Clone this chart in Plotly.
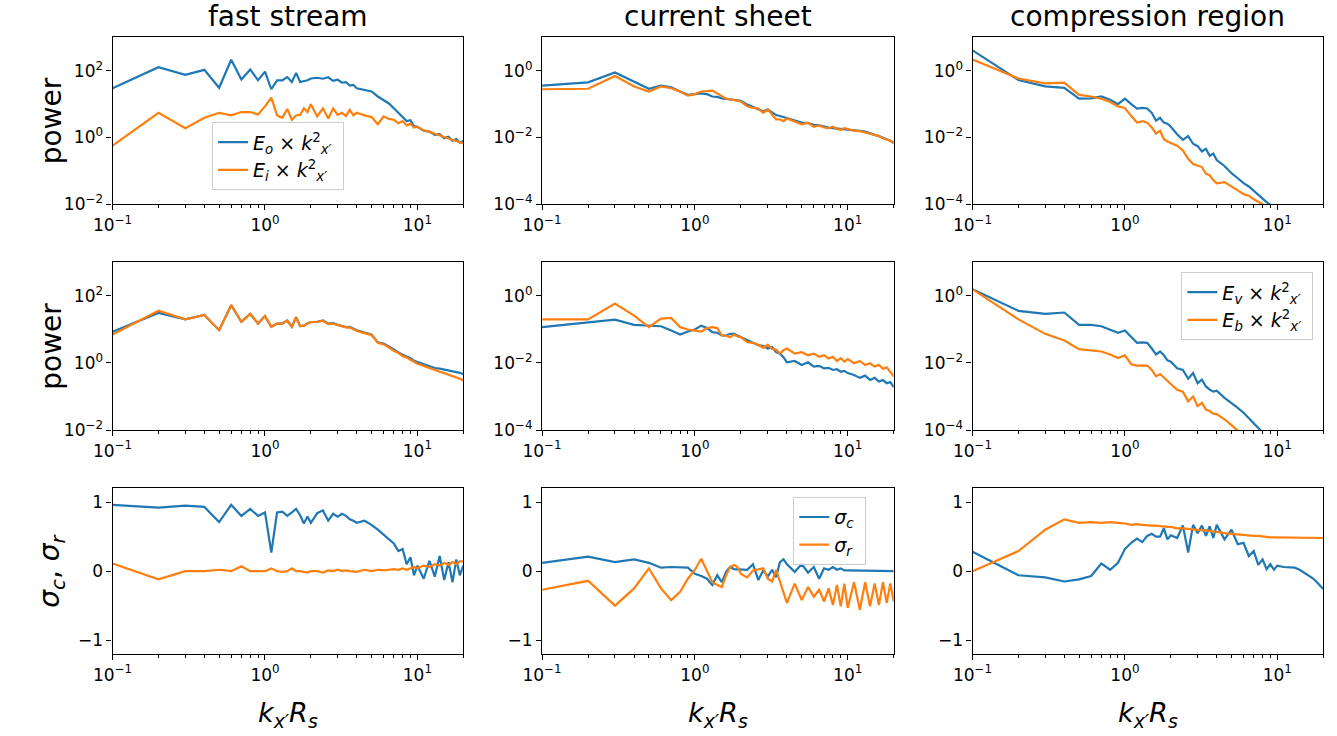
import plotly.graph_objects as go

# ---------------- data ----------------
k = [0.1, 0.2, 0.3, 0.4, 0.5, 0.6, 0.7, 0.8, 0.9, 1.0,
     1.1, 1.2, 1.3, 1.4, 1.5, 1.6, 1.7, 1.8, 1.9, 2.0,
     2.2, 2.4, 2.6, 2.8, 3.0, 3.2, 3.4, 3.6, 3.8, 4.0,
     4.5, 5.0, 5.5, 6.0, 6.5, 7.0, 7.5, 8.0, 8.5, 9.0, 9.5, 10,
     11, 12, 13, 14, 15, 16, 17, 18, 19, 20]

# row 1: E_o, E_i  (x k^2)
fs_Eo = [30, 128, 76, 107, 31, 215, 55, 110, 52, 95,
         28, 52, 52, 65, 46, 87, 46, 48, 52, 59,
         62, 58, 64, 50, 54, 44, 46, 36, 38, 30,
         27, 24, 17, 13, 10.5, 7.5, 5.5, 4.2, 3.1, 3.3, 2.2, 2.1,
         1.6, 1.5, 1.2, 1.25, 0.95, 1.05, 0.8, 0.9, 0.7, 0.78]
fs_Ei = [0.57, 5.5, 1.9, 3.9, 5.5, 4.6, 5.8, 5.8, 4.9, 8.6,
         15.8, 4.6, 3.9, 7.2, 3.4, 4.6, 4.8, 7.5, 5.8, 10,
         4.3, 7.5, 3.7, 7.5, 4.8, 5.5, 4.4, 6.8, 4.6, 5.5,
         4.6, 4.1, 2.5, 4.3, 3.6, 3.4, 2.7, 3.1, 2.3, 2.6, 2.0, 2.1,
         1.6, 1.5, 1.3, 1.15, 1.05, 0.95, 0.85, 0.8, 0.72, 0.66]
cs_Eo = [0.36, 0.45, 0.89, 0.47, 0.29, 0.36, 0.32, 0.24, 0.19, 0.2,
         0.21, 0.2, 0.17, 0.165, 0.15, 0.145, 0.14, 0.135, 0.13, 0.127,
         0.097, 0.081, 0.069, 0.061, 0.069, 0.055, 0.047, 0.044, 0.041, 0.037,
         0.032, 0.028, 0.027, 0.024, 0.023, 0.021, 0.02, 0.019, 0.0185, 0.018, 0.0175, 0.018,
         0.0165, 0.0158, 0.015, 0.013, 0.012, 0.011, 0.01, 0.009, 0.008, 0.007]
cs_Ei = [0.28, 0.29, 0.7, 0.34, 0.24, 0.34, 0.3, 0.24, 0.18, 0.2,
         0.24, 0.25, 0.256, 0.21, 0.17, 0.145, 0.14, 0.135, 0.13, 0.12,
         0.086, 0.077, 0.074, 0.055, 0.069, 0.047, 0.035, 0.035, 0.031, 0.037,
         0.03, 0.025, 0.028, 0.021, 0.023, 0.02, 0.019, 0.021, 0.018, 0.017, 0.019, 0.018,
         0.016, 0.0155, 0.0145, 0.013, 0.012, 0.011, 0.0095, 0.0088, 0.008, 0.0066]
cr_Eo = [4.1, 0.53, 0.34, 0.31, 0.146, 0.15, 0.17, 0.135, 0.1, 0.146,
         0.1, 0.074, 0.077, 0.074, 0.055, 0.032, 0.039, 0.028, 0.026, 0.021,
         0.0125, 0.0085, 0.011, 0.0065, 0.0055, 0.0038, 0.0046, 0.0028, 0.0033, 0.0021,
         0.0014, 0.00085, 0.0006, 0.00043, 0.00034, 0.00025, 0.00019, 0.000145, 0.000115, 0.000095, 0.00007, 0.00005,
         3.2e-5, 2.2e-5, 1.5e-5, 1.1e-5, 8e-6, 6e-6, 4.5e-6, 3.5e-6, 2.7e-6, 2e-6]
cr_Ei = [2.2, 0.59, 0.42, 0.44, 0.19, 0.17, 0.146, 0.116, 0.086, 0.077,
         0.044, 0.028, 0.031, 0.028, 0.02, 0.013, 0.016, 0.0089, 0.0076, 0.007,
         0.0057, 0.0041, 0.0023, 0.0016, 0.0014, 0.0013, 0.00082, 0.00074, 0.00052, 0.00042,
         0.00046, 0.00033, 0.00026, 0.0002, 0.00018, 0.00014, 0.00012, 0.0001, 0.00008, 0.00006, 0.000045, 0.000035,
         2.2e-5, 1.5e-5, 1.1e-5, 8e-6, 6e-6, 4.5e-6, 3.5e-6, 2.7e-6, 2.1e-6, 1.6e-6]

# row 2: E_v, E_b  (x k^2)
fs_Ev = [8.5, 31, 20, 27, 9.5, 53, 17, 29, 15, 25,
         12, 15, 15, 18.5, 12, 23, 12.6, 13, 15, 16.6,
         17, 18.5, 15, 15.5, 13.8, 13, 11.8, 12, 10.6, 9.5,
         8.1, 7.1, 4.1, 3.8, 3.1, 2.5, 2.1, 1.75, 1.57, 1.4, 1.17, 1.07,
         0.93, 0.8, 0.71, 0.68, 0.64, 0.6, 0.57, 0.54, 0.51, 0.46]
fs_Eb = [7.1, 36, 20, 27, 9.5, 53, 17, 29, 15, 25,
         12, 15, 15, 18.5, 12, 23, 12.6, 13, 15, 16.6,
         17, 18, 14.5, 15, 13.5, 12.5, 11.5, 11.5, 10, 9,
         7.8, 6.8, 4, 3.6, 2.9, 2.3, 2, 1.6, 1.45, 1.25, 1.05, 0.95,
         0.82, 0.7, 0.6, 0.55, 0.5, 0.45, 0.42, 0.38, 0.34, 0.3]
cs_Ev = [0.117, 0.165, 0.197, 0.137, 0.13, 0.125, 0.093, 0.071, 0.087, 0.1,
         0.13, 0.11, 0.083, 0.08, 0.066, 0.066, 0.074, 0.074, 0.066, 0.059,
         0.048, 0.04, 0.034, 0.032, 0.027, 0.03, 0.021, 0.019, 0.015, 0.0105,
         0.0115, 0.0087, 0.0105, 0.0078, 0.0082, 0.0069, 0.0072, 0.0062, 0.0065, 0.0055, 0.0058, 0.005,
         0.0044, 0.0036, 0.0042, 0.0031, 0.0036, 0.0028, 0.0031, 0.0025, 0.0027, 0.0019]
cs_Eb = [0.2, 0.2, 0.59, 0.26, 0.117, 0.21, 0.22, 0.117, 0.1, 0.093,
         0.087, 0.11, 0.117, 0.11, 0.066, 0.066, 0.059, 0.07, 0.062, 0.059,
         0.042, 0.04, 0.035, 0.028, 0.035, 0.026, 0.025, 0.019, 0.024, 0.027,
         0.019, 0.021, 0.017, 0.019, 0.0154, 0.017, 0.0137, 0.0154, 0.0115, 0.014, 0.011, 0.013,
         0.0098, 0.0115, 0.0087, 0.0098, 0.0078, 0.0088, 0.0067, 0.0074, 0.0053, 0.004]
cr_Ev = [1.57, 0.36, 0.29, 0.32, 0.137, 0.137, 0.125, 0.1, 0.08, 0.093,
         0.059, 0.04, 0.041, 0.04, 0.027, 0.018, 0.022, 0.017, 0.012, 0.011,
         0.007, 0.0062, 0.0034, 0.005, 0.0025, 0.0032, 0.002, 0.0016, 0.0014, 0.0015,
         0.00091, 0.00065, 0.00046, 0.00033, 0.00023, 0.00017, 0.00012, 0.000094, 0.00007, 0.000052, 0.00004, 0.00003,
         1.8e-5, 1.1e-5, 7e-6, 4.5e-6, 3e-6, 2e-6, 1.4e-6, 1e-6, 7e-7, 5e-7]
cr_Eb = [1.57, 0.2, 0.074, 0.047, 0.026, 0.024, 0.022, 0.018, 0.014, 0.017,
         0.0092, 0.0084, 0.0085, 0.0084, 0.0062, 0.004, 0.0047, 0.0037, 0.003, 0.0023,
         0.0016, 0.0014, 0.00072, 0.001, 0.00052, 0.00065, 0.00041, 0.00037, 0.00031, 0.0003,
         0.00021, 0.00014, 0.0001, 0.00007, 0.00005, 0.000035, 0.000025, 0.000018, 0.000013, 0.00001, 7e-6, 5e-6,
         3e-6, 2e-6, 1.3e-6, 9e-7, 6e-7, 4e-7, 3e-7, 2e-7, 1.4e-7, 1e-7]

# row 3: sigma_c, sigma_r
fs_sc = [0.96, 0.92, 0.95, 0.93, 0.71, 0.96, 0.8, 0.9, 0.8, 0.85,
         0.27, 0.85, 0.86, 0.8, 0.85, 0.9, 0.81, 0.69, 0.79, 0.7,
         0.84, 0.88, 0.73, 0.83, 0.79, 0.83, 0.8, 0.75, 0.73, 0.7,
         0.73, 0.67, 0.6, 0.53, 0.46, 0.4, 0.29, 0.32, 0.1, 0.2, -0.06, 0.08,
         -0.11, 0.15, -0.08, 0.22, -0.13, 0.13, -0.16, 0.17, -0.06, 0.08]
fs_sr = [0.11, -0.12, 0.0, 0.0, 0.02, 0.0, 0.07, 0.0, 0.0, 0.0,
         0.04, 0.0, -0.01, 0.0, 0.04, 0.0, 0.0, -0.01, -0.02, 0.0,
         0.0, -0.02, 0.01, 0.0, 0.02, 0.0, 0.01, 0.0, 0.0, -0.01,
         0.02, 0.0, 0.02, 0.01, 0.02, 0.03, 0.02, 0.04, 0.02, 0.04, 0.06, 0.04,
         0.08, 0.06, 0.1, 0.08, 0.12, 0.09, 0.13, 0.1, 0.14, 0.14]
cs_sc = [0.12, 0.21, 0.13, 0.17, 0.12, 0.05, 0.06, 0.06, 0.05, -0.04,
         -0.07, -0.11, -0.2, -0.06, -0.16, -0.01, 0.06, 0.03, 0.03, 0.02,
         0.02, 0.1, -0.13, 0.01, -0.08, 0.02, -0.09, 0.13, 0.17, 0.1,
         -0.01, 0.1, -0.02, 0.06, -0.11, 0.04, 0.02, 0.06, 0.02, 0.04, 0.01, 0.01,
         0.01, 0.0, 0.01, 0.0, 0.01, 0.0, 0.01, 0.0, 0.0, 0.0]
cs_sr = [-0.27, -0.14, -0.5, -0.25, 0.04, -0.25, -0.42, -0.3, -0.11, 0.02,
         0.18, -0.01, -0.16, -0.2, -0.23, -0.06, 0.06, 0.09, 0.06, -0.04,
         -0.09, 0.01, 0.03, 0.04, -0.11, -0.15, 0.02, -0.16, -0.3, -0.46,
         -0.18, -0.42, -0.23, -0.37, -0.27, -0.44, -0.25, -0.49, -0.2, -0.51, -0.18, -0.53,
         -0.16, -0.56, -0.16, -0.51, -0.18, -0.49, -0.16, -0.46, -0.18, -0.44]
cr_sc = [0.28, -0.06, -0.09, -0.15, -0.12, -0.07, 0.11, 0.02, 0.12, 0.32,
         0.41, 0.47, 0.42, 0.51, 0.54, 0.5, 0.5, 0.62, 0.46, 0.52,
         0.48, 0.66, 0.27, 0.67, 0.55, 0.66, 0.51, 0.65, 0.48, 0.67,
         0.46, 0.6, 0.39, 0.41, 0.22, 0.29, 0.09, 0.17, 0.03, 0.1, 0.02, 0.08,
         0.06, 0.06, 0.05, 0.02, -0.02, -0.06, -0.1, -0.15, -0.2, -0.26]
cr_sr = [0.0, 0.29, 0.6, 0.75, 0.7, 0.71, 0.7, 0.71, 0.7, 0.69,
         0.67, 0.68, 0.67, 0.66, 0.66, 0.66, 0.65, 0.65, 0.64, 0.64,
         0.62, 0.62, 0.61, 0.6, 0.6, 0.59, 0.59, 0.58, 0.58, 0.57,
         0.55, 0.54, 0.53, 0.53, 0.52, 0.51, 0.51, 0.5, 0.5, 0.49, 0.49, 0.49,
         0.49, 0.49, 0.48, 0.48, 0.48, 0.48, 0.48, 0.48, 0.48, 0.48]

col_titles = ["fast stream", "current sheet", "compression region"]
names_row1 = ["<i>E<sub>o</sub></i> × <i>k</i><sup>2</sup><sub><i>x′</i></sub> ",
              "<i>E<sub>i</sub></i> × <i>k</i><sup>2</sup><sub><i>x′</i></sub> "]
names_row2 = ["<i>E<sub>v</sub></i> × <i>k</i><sup>2</sup><sub><i>x′</i></sub> ",
              "<i>E<sub>b</sub></i> × <i>k</i><sup>2</sup><sub><i>x′</i></sub> "]
names_row3 = ["<i>σ<sub>c</sub></i> ", "<i>σ<sub>r</sub></i> "]

x_tickvals = [0.1, 1, 10]
x_ticktext = ["10<sup>−1</sup>", "10<sup>0</sup>", "10<sup>1</sup>"]
x_minor = [0.2, 0.3, 0.4, 0.5, 0.6, 0.7, 0.8, 0.9, 2, 3, 4, 5, 6, 7, 8, 9, 20]
y1_tickvals = [1e-2, 1, 1e2]
y1_ticktext = ["10<sup>−2</sup>", "10<sup>0</sup>", "10<sup>2</sup>"]
y2_tickvals = [1e-4, 1e-2, 1]
y2_ticktext = ["10<sup>−4</sup>", "10<sup>−2</sup>", "10<sup>0</sup>"]
s_tickvals = [-1, 0, 1]
s_ticktext = ["−1", "0", "1"]

BLUE = "#1f77b4"
ORANGE = "#ff7f0e"
W, H = 1337, 736
FONT = "DejaVu Sans"

panels = [
    [(fs_Eo, fs_Ei), (cs_Eo, cs_Ei), (cr_Eo, cr_Ei)],
    [(fs_Ev, fs_Eb), (cs_Ev, cs_Eb), (cr_Ev, cr_Eb)],
    [(fs_sc, fs_sr), (cs_sc, cs_sr), (cr_sc, cr_sr)],
]
row_names = [names_row1, names_row2, names_row3]
legend_at = {(0, 0): "legend", (1, 2): "legend2", (2, 1): "legend3"}

# pixel boxes
col_px = [(94, 450), (530, 887), (967, 1323)]
row_px = [(38, 207), (266, 436), (495, 663)]

fig = go.Figure()
layout = {}
for r in range(3):
    for c in range(3):
        i = r * 3 + c
        xa = "x" if i == 0 else f"x{i+1}"
        ya = "y" if i == 0 else f"y{i+1}"
        leg = legend_at.get((r, c))
        for j, (series, color) in enumerate(zip(panels[r][c], [BLUE, ORANGE])):
            fig.add_trace(go.Scatter(
                x=k, y=series, mode="lines", xaxis=xa, yaxis=ya,
                line=dict(color=color, width=2.2),
                name=row_names[r][j],
                showlegend=leg is not None,
                legend=leg if leg else "legend",
            ))
        x0, x1 = col_px[c]
        y0, y1 = row_px[r]
        axcommon = dict(showline=True, linecolor="black", linewidth=1.3, mirror=True,
                        ticks="outside", ticklen=5, tickwidth=1.3, tickcolor="black",
                        showgrid=False, zeroline=False,
                        tickfont=dict(family=FONT, size=17, color="black"))
        layout["xaxis" if i == 0 else f"xaxis{i+1}"] = dict(
            axcommon, type="log", range=[-1, 1.30103],
            domain=[x0 / W, x1 / W], anchor=ya,
            tickmode="array", tickvals=x_tickvals, ticktext=x_ticktext,
            minor=dict(ticks="outside", ticklen=3, tickwidth=1, tickcolor="black",
                       tickmode="array", tickvals=x_minor, showgrid=False),
        )
        if r < 2:
            if c == 0:
                yr, tv, tt = [-2, 3], y1_tickvals, y1_ticktext
            else:
                yr, tv, tt = [-4, 1], y2_tickvals, y2_ticktext
            ydict = dict(axcommon, type="log", range=yr, tickmode="array",
                         tickvals=tv, ticktext=tt)
        else:
            ydict = dict(axcommon, range=[-1.2, 1.2], tickmode="array",
                         tickvals=s_tickvals, ticktext=s_ticktext)
        ydict.update(domain=[1 - y1 / H, 1 - y0 / H], anchor=xa)
        layout["yaxis" if i == 0 else f"yaxis{i+1}"] = ydict

legstyle = dict(bgcolor="rgba(255,255,255,0.8)", bordercolor="#cccccc", borderwidth=1,
                font=dict(family=FONT, size=19, color="black"),
                xanchor="left", yanchor="top", tracegroupgap=0)
layout["legend"] = dict(legstyle, x=195 / W, y=1 - 124 / H)
layout["legend2"] = dict(legstyle, x=1179 / W, y=1 - 276 / H)
layout["legend3"] = dict(legstyle, x=785 / W, y=1 - 504 / H)

ann = []
for c, t in enumerate(col_titles):
    cx = (col_px[c][0] + col_px[c][1]) / 2
    ann.append(dict(text=t, x=cx / W, y=1 - 17 / H, xref="paper", yref="paper",
                    xanchor="center", yanchor="middle", showarrow=False,
                    font=dict(family=FONT, size=28, color="black")))
    ann.append(dict(text="<i>k</i><sub><i>x′</i></sub><i>R</i><sub><i>s</i></sub>",
                    x=cx / W, y=1 - 724 / H, xref="paper", yref="paper",
                    xanchor="center", yanchor="middle", showarrow=False,
                    font=dict(family=FONT, size=27, color="black")))
for r, lab in enumerate(["power", "power",
                         "<i>σ</i><sub><i>c</i></sub>, <i>σ</i><sub><i>r</i></sub>"]):
    cy = (row_px[r][0] + row_px[r][1]) / 2
    ann.append(dict(text=lab, x=32 / W, y=1 - cy / H, xref="paper", yref="paper",
                    xanchor="center", yanchor="middle", showarrow=False, textangle=-90,
                    font=dict(family=FONT, size=28, color="black")))

fig.update_layout(**layout)
fig.update_layout(width=W, height=H, margin=dict(l=0, r=0, t=0, b=0),
                  paper_bgcolor="white", plot_bgcolor="white",
                  font=dict(family=FONT, color="black"),
                  annotations=ann)
fig.write_html("out.html")
